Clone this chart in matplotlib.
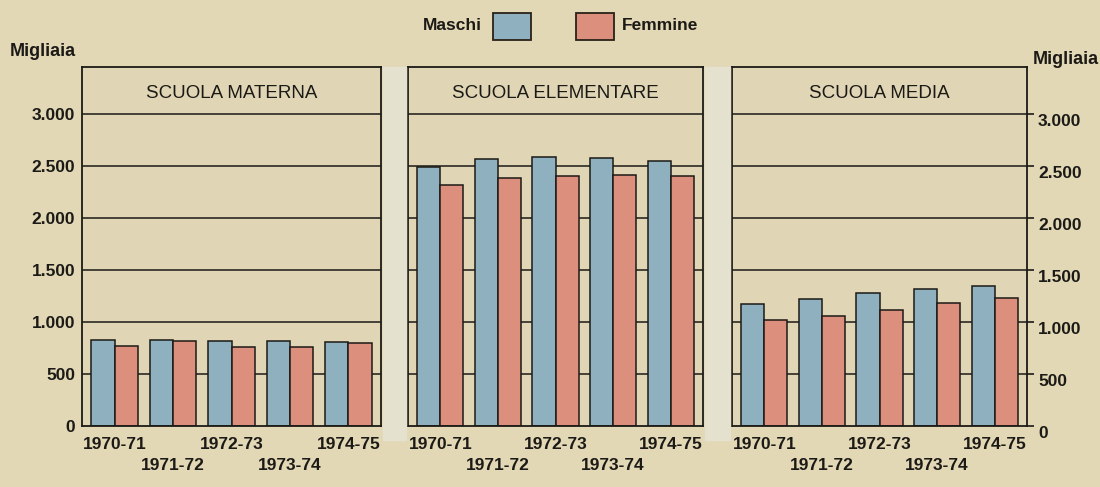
import matplotlib
matplotlib.use('Agg')
import matplotlib.pyplot as plt
from matplotlib.patches import Rectangle

plt.rcParams['font.family'] = ['Liberation Sans', 'DejaVu Sans']

# valori in migliaia
anni = ['1970-71', '1971-72', '1972-73', '1973-74', '1974-75']
materna_m = [827, 827, 817, 817, 810]
materna_f = [769, 814, 763, 756, 795]
elementare_m = [2490, 2566, 2589, 2575, 2543]
elementare_f = [2318, 2382, 2405, 2415, 2405]
media_m = [1175, 1217, 1276, 1315, 1348]
media_f = [1017, 1061, 1110, 1185, 1227]
titoli = ['SCUOLA MATERNA', 'SCUOLA ELEMENTARE', 'SCUOLA MEDIA']
yticks = [0, 500, 1000, 1500, 2000, 2500, 3000]
ylabels = ['0', '500', '1.000', '1.500', '2.000', '2.500', '3.000']

bg = '#e2d8b6'
blu = '#8fb0bf'
rosa = '#dd8f7d'
ink = '#1c1a16'

W, H = 1100, 487
fig = plt.figure(figsize=(11, 4.87), dpi=100)
fig.patch.set_facecolor(bg)

# strisce chiare tra i pannelli (carta)
for x0, x1 in [(383, 406), (705, 730)]:
    fig.patches.append(Rectangle((x0 / W, (H - 440) / H), (x1 - x0) / W, 373 / H,
                                 transform=fig.transFigure, color='#e4e2cf', zorder=0))

panels = [(82, 381), (408, 703), (732, 1027)]
top, bottom = 67, 426
data = [(materna_m, materna_f), (elementare_m, elementare_f), (media_m, media_f)]

w = 0.4
for k, ((x0, x1), (m, f), titolo) in enumerate(zip(panels, data, titoli)):
    ax = fig.add_axes([x0 / W, (H - bottom) / H, (x1 - x0) / W, (bottom - top) / H])
    ax.set_facecolor('#e0d6b5')
    xs = range(len(anni))
    for y in yticks[1:]:
        ax.axhline(y, color=ink, lw=1.1, zorder=1)
    ax.bar([i - w / 2 for i in xs], m, width=w, color=blu, edgecolor=ink, lw=1.1, zorder=2)
    ax.bar([i + w / 2 for i in xs], f, width=w, color=rosa, edgecolor=ink, lw=1.1, zorder=2)
    ax.set_xlim(-0.56, 4.56)
    ax.set_ylim(0, 3450)
    ax.text(0.5, 3200, titolo, transform=ax.get_yaxis_transform(), ha='center', va='center',
            fontsize=13.5, color=ink)
    for s in ax.spines.values():
        s.set_linewidth(1.3)
        s.set_color(ink)

    ax.set_xticks(list(xs))
    ax.set_xticklabels([a if i % 2 == 0 else '\n' + a for i, a in enumerate(anni)],
                       fontsize=12.5, fontweight='bold', color=ink, linespacing=1.5)
    ax.tick_params(axis='x', length=0, pad=8)

    ax.set_yticks(yticks)
    if k == 0:
        ax.set_yticklabels(ylabels, fontsize=12.5, fontweight='bold', color=ink)
        ax.tick_params(axis='y', length=0, pad=5)
    elif k == 2:
        ax.yaxis.tick_right()
        ax.set_yticklabels(ylabels, fontsize=12.5, fontweight='bold', color=ink)
        ax.tick_params(axis='y', length=5, width=1.2, pad=3, color=ink)
        for lab in ax.get_yticklabels():
            lab.set_va('top')
    else:
        ax.tick_params(axis='y', length=0, labelleft=False)

fig.text(10 / W, 1 - 52 / H, 'Migliaia', fontsize=13, fontweight='bold', color=ink,
         ha='left', va='center')
fig.text(1099 / W, 1 - 59 / H, 'Migliaia', fontsize=13, fontweight='bold', color=ink,
         ha='right', va='center')

# legenda
for x0, col in [(493, blu), (576, rosa)]:
    fig.patches.append(Rectangle((x0 / W, 1 - 40 / H), 38 / W, 27 / H, transform=fig.transFigure,
                                 facecolor=col, edgecolor='#2a2218', lw=1.3))
fig.text(482 / W, 1 - 25 / H, 'Maschi', fontsize=12.5, fontweight='bold', color=ink,
         ha='right', va='center')
fig.text(622 / W, 1 - 26 / H, 'Femmine', fontsize=12.5, fontweight='bold', color=ink,
         ha='left', va='center')

fig.savefig('out.png', dpi=100, facecolor=bg)
